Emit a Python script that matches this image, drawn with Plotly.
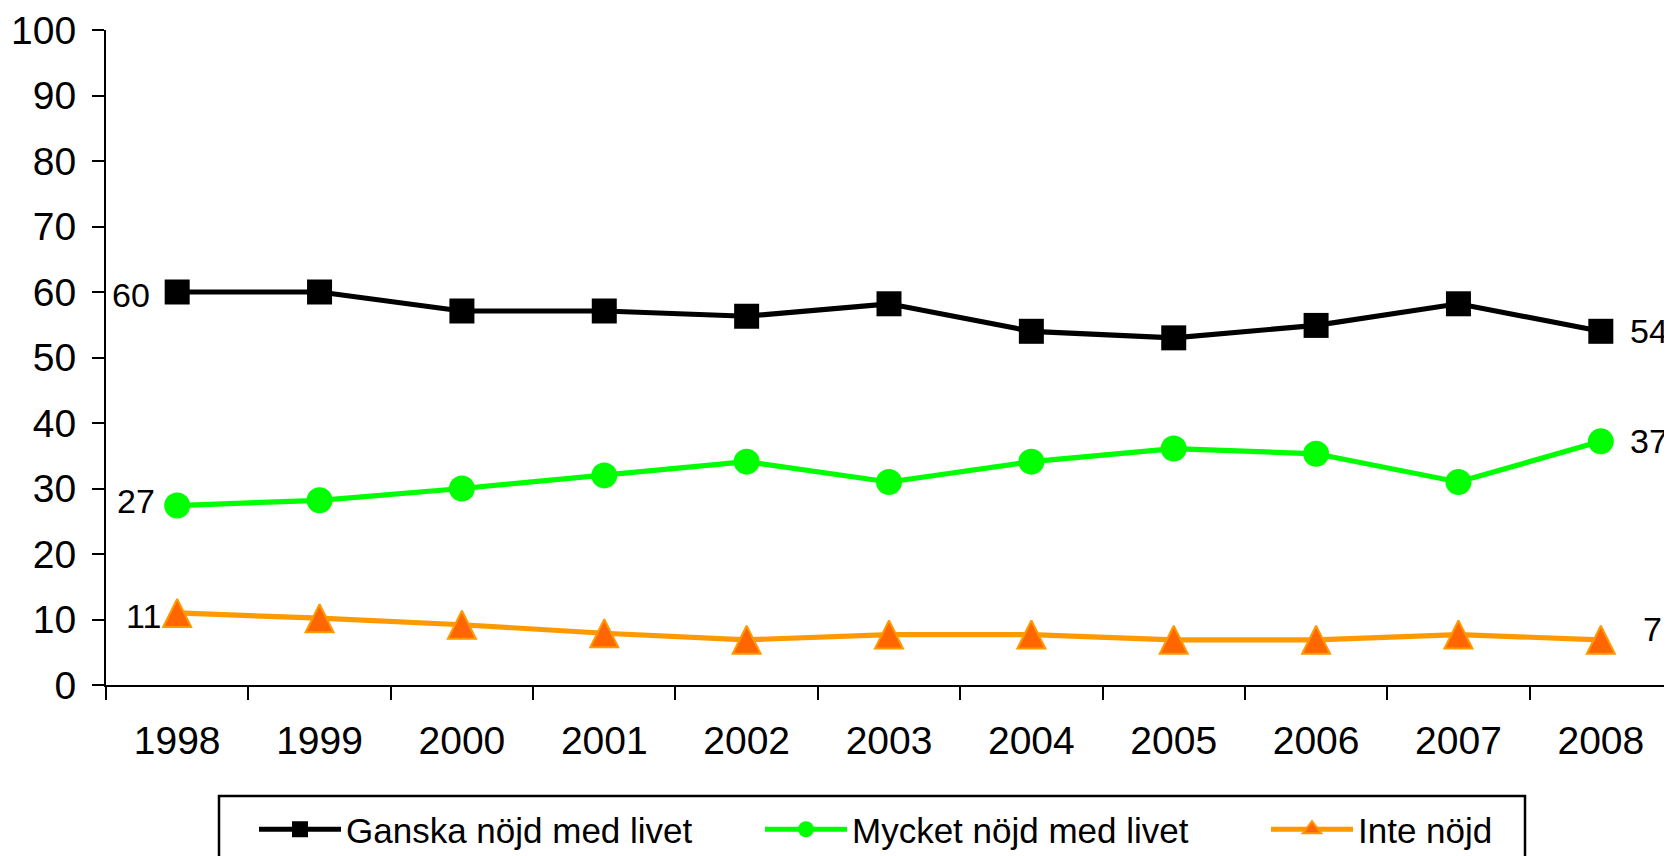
import plotly.graph_objects as go

years = ["1998", "1999", "2000", "2001", "2002", "2003", "2004", "2005", "2006", "2007", "2008"]
ganska = [60, 60, 57.1, 57.1, 56.3, 58.2, 54.0, 53.0, 54.9, 58.2, 54.0]
mycket = [27.4, 28.2, 30.0, 32.0, 34.1, 31.0, 34.1, 36.1, 35.3, 31.0, 37.2]
inte = [11.0, 10.2, 9.2, 7.9, 6.9, 7.7, 7.7, 6.9, 6.9, 7.7, 6.9]
names = ["Ganska nöjd med livet", "Mycket nöjd med livet", "Inte nöjd"]
yticks = [0, 10, 20, 30, 40, 50, 60, 70, 80, 90, 100]

FONT = "Liberation Sans, Arial, sans-serif"

# page offset caused by the default body margin of the html page
OFF = 8
W, H = 1672 - OFF, 856 - OFF
ML, MR, MT = 106 - OFF, 0, 30 - OFF
MB = H - (685 - OFF)
PW, PH = W - ML - MR, H - MT - MB

def px_x(page_x):
    return (page_x - OFF - ML) / PW

def px_y(page_y):
    return (H - MB - (page_y - OFF)) / PH

fig = go.Figure()
fig.add_trace(go.Scatter(
    x=years, y=ganska, name=names[0], mode="lines+markers",
    line=dict(color="#000000", width=5.2),
    marker=dict(symbol="square", size=25, color="#000000"),
))
fig.add_trace(go.Scatter(
    x=years, y=mycket, name=names[1], mode="lines+markers",
    line=dict(color="#00FF00", width=5.2),
    marker=dict(symbol="circle", size=26, color="#00FF00"),
))
fig.add_trace(go.Scatter(
    x=years, y=inte, name=names[2], mode="lines+markers", showlegend=False,
    line=dict(color="#FF9900", width=5.2),
    marker=dict(symbol="arrow-down", size=28, angle=180, standoff=14,
                color="#FF6600", line=dict(color="#FF9900", width=2)),
))
# legend entry for the third series (plain triangle glyph)
fig.add_trace(go.Scatter(
    x=[None], y=[None], name=names[2], mode="lines+markers", legendwidth=160,
    line=dict(color="#FF9900", width=5.2),
    marker=dict(symbol="triangle-up", size=22, color="#FF6600",
                line=dict(color="#FF9900", width=2)),
))

annotations = []
def lab(i, y, txt, anchor, xs, ys=0):
    annotations.append(dict(x=i, y=y, xref="x", yref="y", text=txt, showarrow=False,
                            xanchor=anchor, yanchor="middle", xshift=xs, yshift=ys,
                            font=dict(family=FONT, size=34, color="#000000")))

last = len(years) - 1
lab(0, ganska[0], str(round(ganska[0])), "right", -25, -3)
lab(0, mycket[0], str(int(mycket[0])), "right", -20, 5)
lab(0, inte[0], str(round(inte[0])), "right", -14, -3)
lab(last, ganska[-1], str(round(ganska[-1])), "left", 27)
lab(last, mycket[-1], str(round(mycket[-1])), "left", 27)
lab(last, inte[-1], str(round(inte[-1])), "left", 40, 11)

# legend frame (extends below the visible page, as in the original)
shapes = [dict(type="rect", xref="paper", yref="paper",
               x0=px_x(219), x1=px_x(1525),
               y0=px_y(900), y1=px_y(796),
               line=dict(color="#000000", width=2.5), fillcolor="rgba(0,0,0,0)")]

fig.update_layout(
    width=W, height=H,
    margin=dict(l=ML, r=MR, t=MT, b=MB, autoexpand=False),
    paper_bgcolor="white", plot_bgcolor="white",
    font=dict(family=FONT, size=37, color="#000000"),
    showlegend=True,
    legend=dict(
        orientation="h", x=px_x(254), xanchor="left",
        y=px_y(800), yanchor="top",
        borderwidth=0, bgcolor="rgba(0,0,0,0)",
        font=dict(family=FONT, size=35, color="#000000"),
        entrywidth=409, entrywidthmode="pixels", itemwidth=82,
        traceorder="normal",
    ),
    xaxis=dict(
        type="category", range=[-0.5, 10.5], tickson="boundaries",
        showline=True, linecolor="#000000", linewidth=2,
        ticks="outside", ticklen=13, tickwidth=2, tickcolor="#000000",
        showgrid=False, zeroline=False, ticklabelstandoff=20,
        tickfont=dict(family=FONT, size=39, color="#000000"),
    ),
    yaxis=dict(
        range=[0, 100], tickvals=yticks, ticktext=[str(v) for v in yticks],
        showline=True, linecolor="#000000", linewidth=2,
        ticks="outside", ticklen=12, tickwidth=2, tickcolor="#000000",
        showgrid=False, zeroline=False, ticklabelstandoff=8,
        tickfont=dict(family=FONT, size=39, color="#000000"),
    ),
    annotations=annotations,
    shapes=shapes,
)

fig.write_html("out.html")
